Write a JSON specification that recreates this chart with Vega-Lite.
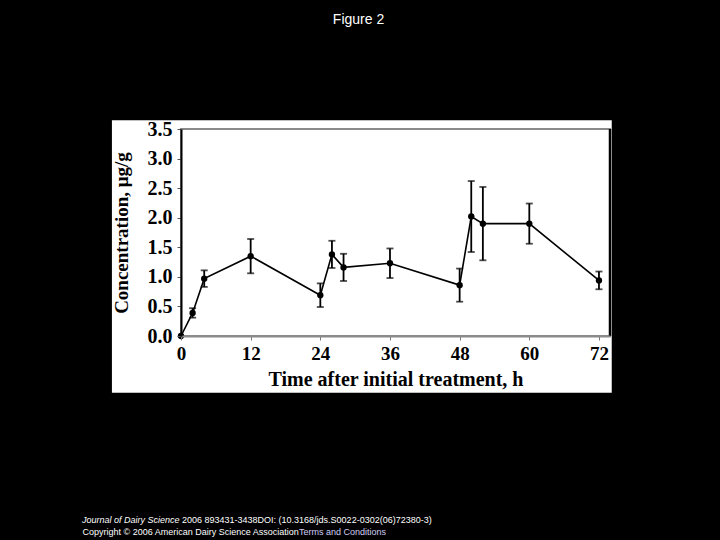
{
  "$schema": "https://vega.github.io/schema/vega-lite/v6.json",
  "background": "black",
  "autosize": {"type": "none"},
  "padding": {"left": 181, "top": 129, "right": 110, "bottom": 204},
  "width": 429,
  "height": 207,
  "title": {
    "text": "Figure 2",
    "color": "white",
    "font": "Liberation Sans",
    "fontSize": 14,
    "fontWeight": "normal",
    "anchor": "middle",
    "frame": "group",
    "dx": -37,
    "offset": 92
  },
  "config": {
    "view": {"stroke": null},
    "axis": {"grid": false},
    "axisX": {
      "labelFlush": false,
      "labelOverlap": false,
      "labelFont": "Liberation Serif",
      "labelFontWeight": "bold",
      "labelFontSize": 19,
      "labelColor": "black",
      "labelPadding": 4,
      "tickColor": "#777",
      "tickSize": 4,
      "domainColor": "#8a8a8a",
      "domainWidth": 2,
      "titleFont": "Liberation Serif",
      "titleFontWeight": "bold",
      "titleFontSize": 20,
      "titleColor": "black",
      "titlePadding": 6
    },
    "axisY": {
      "labelFlush": false,
      "labelOverlap": false,
      "labelFont": "Liberation Serif",
      "labelFontWeight": "bold",
      "labelFontSize": 20,
      "labelColor": "black",
      "labelPadding": 5,
      "tickColor": "#555",
      "tickSize": 4,
      "domainColor": "black",
      "domainWidth": 2,
      "titleFont": "Liberation Serif",
      "titleFontWeight": "bold",
      "titleFontSize": 19,
      "titleColor": "black",
      "titlePadding": 16
    }
  },
  "datasets": {
    "conc": [
      {"t": 0, "c": 0, "sd": 0},
      {"t": 2, "c": 0.39, "sd": 0.08},
      {"t": 4, "c": 0.97, "sd": 0.14},
      {"t": 12, "c": 1.35, "sd": 0.29},
      {"t": 24, "c": 0.69, "sd": 0.2},
      {"t": 26, "c": 1.38, "sd": 0.23},
      {"t": 28, "c": 1.16, "sd": 0.23},
      {"t": 36, "c": 1.23, "sd": 0.25},
      {"t": 48, "c": 0.86, "sd": 0.28},
      {"t": 50, "c": 2.02, "sd": 0.6},
      {"t": 52, "c": 1.9, "sd": 0.62},
      {"t": 60, "c": 1.9, "sd": 0.34},
      {"t": 72, "c": 0.94, "sd": 0.15}
    ],
    "one": [{"k": 1}]
  },
  "layer": [
    {
      "data": {"name": "one"},
      "mark": {"type": "rect", "color": "white", "fill": "white", "clip": false},
      "encoding": {
        "x": {"datum": -11.9, "type": "quantitative", "title": "Time after initial treatment, h", "scale": {"domain": [0, 73.9], "nice": false, "zero": false}, "axis": {"zindex": 1, "values": [0, 12, 24, 36, 48, 60, 72]}},
        "x2": {"datum": 74.2},
        "y": {"datum": 3.65, "type": "quantitative", "title": "Concentration, μg/g", "scale": {"domain": [0, 3.5], "nice": false}, "axis": {"zindex": 1, "values": [0, 0.5, 1, 1.5, 2, 2.5, 3, 3.5], "format": ".1f"}},
        "y2": {"datum": -0.96}
      }
    },
    {
      "data": {"name": "one"},
      "mark": {"type": "rect", "filled": false, "stroke": "#8a8a8a", "strokeWidth": 2},
      "encoding": {
        "x": {"datum": 0, "type": "quantitative", "title": "Time after initial treatment, h", "axis": {"zindex": 1, "values": [0, 12, 24, 36, 48, 60, 72]}},
        "x2": {"datum": 73.9},
        "y": {"datum": 0, "type": "quantitative", "title": "Concentration, μg/g", "axis": {"zindex": 1, "values": [0, 0.5, 1, 1.5, 2, 2.5, 3, 3.5], "format": ".1f"}},
        "y2": {"datum": 3.5}
      }
    },
    {
      "data": {"name": "one"},
      "mark": {"type": "rule", "color": "black", "strokeWidth": 2.5},
      "encoding": {
        "x": {"datum": 73.9, "type": "quantitative", "title": "Time after initial treatment, h", "axis": {"zindex": 1, "values": [0, 12, 24, 36, 48, 60, 72]}},
        "y": {"datum": 0, "type": "quantitative", "title": "Concentration, μg/g", "axis": {"zindex": 1, "values": [0, 0.5, 1, 1.5, 2, 2.5, 3, 3.5], "format": ".1f"}},
        "y2": {"datum": 3.5}
      }
    },
    {
      "data": {"name": "conc"},
      "mark": {"type": "line", "color": "black", "strokeWidth": 1.6},
      "encoding": {
        "x": {"field": "t", "type": "quantitative", "title": "Time after initial treatment, h", "axis": {"zindex": 1, "values": [0, 12, 24, 36, 48, 60, 72]}},
        "y": {"field": "c", "type": "quantitative", "title": "Concentration, μg/g", "axis": {"zindex": 1, "values": [0, 0.5, 1, 1.5, 2, 2.5, 3, 3.5], "format": ".1f"}}
      }
    },
    {
      "data": {"name": "conc"},
      "transform": [{"filter": "datum.sd > 0"}],
      "mark": {
        "type": "errorbar",
        "color": "black",
        "thickness": 1.8,
        "ticks": {"size": 7, "color": "black", "strokeWidth": 1.8}
      },
      "encoding": {
        "x": {"field": "t", "type": "quantitative", "title": "Time after initial treatment, h", "axis": {"zindex": 1, "values": [0, 12, 24, 36, 48, 60, 72]}},
        "y": {"field": "c", "type": "quantitative", "title": "Concentration, μg/g", "axis": {"zindex": 1, "values": [0, 0.5, 1, 1.5, 2, 2.5, 3, 3.5], "format": ".1f"}},
        "yError": {"field": "sd"}
      }
    },
    {
      "data": {"name": "conc"},
      "mark": {"type": "circle", "color": "black", "size": 40, "opacity": 1},
      "encoding": {
        "x": {"field": "t", "type": "quantitative", "title": "Time after initial treatment, h", "axis": {"zindex": 1, "values": [0, 12, 24, 36, 48, 60, 72]}},
        "y": {"field": "c", "type": "quantitative", "title": "Concentration, μg/g", "axis": {"zindex": 1, "values": [0, 0.5, 1, 1.5, 2, 2.5, 3, 3.5], "format": ".1f"}}
      }
    },
    {
      "data": {"values": [{"txt": "Journal of Dairy Science"}]},
      "mark": {"type": "text", "color": "white", "font": "Liberation Sans", "fontSize": 9, "fontStyle": "italic", "align": "left", "baseline": "middle", "dx": -313.5, "dy": 287.5},
      "encoding": {"text": {"field": "txt"}}
    },
    {
      "data": {"values": [{"txt": "2006 893431-3438DOI: (10.3168/jds.S0022-0302(06)72380-3)"}]},
      "mark": {"type": "text", "color": "white", "font": "Liberation Sans", "fontSize": 9, "align": "left", "baseline": "middle", "dx": -213.5, "dy": 287.5},
      "encoding": {"text": {"field": "txt"}}
    },
    {
      "data": {"values": [{"txt": "Copyright © 2006 American Dairy Science Association"}]},
      "mark": {"type": "text", "color": "white", "font": "Liberation Sans", "fontSize": 9, "align": "left", "baseline": "middle", "dx": -313, "dy": 299.5},
      "encoding": {"text": {"field": "txt"}}
    },
    {
      "data": {"values": [{"txt": "Terms and Conditions"}]},
      "mark": {"type": "text", "color": "#cfcdf5", "font": "Liberation Sans", "fontSize": 9, "align": "left", "baseline": "middle", "dx": -96.5, "dy": 299.5},
      "encoding": {"text": {"field": "txt"}}
    }
  ]
}
